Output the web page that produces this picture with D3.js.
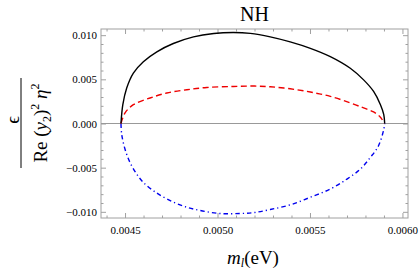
<!DOCTYPE html>
<html>
<head>
<meta charset="utf-8">
<script src="https://cdn.jsdelivr.net/npm/d3@7"></script>
<style>
  body { margin: 0; background: #fff; }
  svg text { font-family: "Liberation Serif", "Times New Roman", serif; }
</style>
</head>
<body>
<figure id="chart" style="margin:0"></figure>
<script>
// values
const blackM = [0.004478, 0.004488, 0.004509, 0.004545, 0.004599, 0.004672, 0.004761, 0.004870, 0.004980, 0.005086, 0.005177, 0.005285, 0.005393, 0.005502, 0.005610, 0.005718, 0.005790, 0.005844, 0.005881, 0.005899, 0.005904];
const blackEps = [0, 0.00213, 0.00402, 0.00571, 0.00700, 0.00812, 0.00906, 0.00981, 0.01019, 0.01030, 0.01020, 0.00981, 0.00924, 0.00851, 0.00757, 0.00625, 0.00494, 0.00363, 0.00213, 0.00101, 0];

const redM = [0.004478, 0.004500, 0.004545, 0.004635, 0.004726, 0.004834, 0.004942, 0.005086, 0.005200, 0.005285, 0.005393, 0.005502, 0.005610, 0.005718, 0.005790, 0.005844, 0.005881, 0.005902];
const redEps = [0, 0.00120, 0.00213, 0.00289, 0.00345, 0.00382, 0.00408, 0.00419, 0.00424, 0.00416, 0.00393, 0.00356, 0.00307, 0.00233, 0.00176, 0.00131, 0.00071, 0];

const blueM = [0.004478, 0.004482, 0.004500, 0.004527, 0.004563, 0.004599, 0.004653, 0.004726, 0.004816, 0.004906, 0.005014, 0.005123, 0.005200, 0.005285, 0.005393, 0.005502, 0.005610, 0.005700, 0.005772, 0.005826, 0.005870, 0.005899, 0.005904];
const blueEps = [0, -0.00124, -0.00292, -0.00442, -0.00573, -0.00667, -0.00761, -0.00854, -0.00936, -0.00985, -0.01019, -0.01019, -0.01008, -0.00974, -0.00921, -0.00835, -0.00742, -0.00629, -0.00517, -0.00385, -0.00255, -0.00067, 0];

const xTicks = [0.0045, 0.0050, 0.0055, 0.0060];
const yTicks = [-0.010, -0.005, 0.000, 0.005, 0.010];

const W = 419, H = 273;
const margin = {left: 101, right: 408, top: 29, bottom: 218};
const serif = "Liberation Serif, Times New Roman, serif";

const svg = d3.select("figure#chart").append("svg")
  .attr("width", W).attr("height", H);

const x = d3.scaleLinear().domain([0.00437, 0.00603]).range([margin.left, margin.right]);
const y = d3.scaleLinear().domain([-0.0107, 0.0107]).range([margin.bottom, margin.top]);

const frameColor = "#a0a0a0";

// minor ticks
const xMinor = d3.range(0.0044, 0.00604, 0.0001).filter(v => !xTicks.some(t => Math.abs(t - v) < 1e-9));
const yMinor = d3.range(-0.010, 0.0105, 0.001).filter(v => !yTicks.some(t => Math.abs(t - v) < 1e-9));

function styleAxis(g) {
  g.attr("font-family", serif);
  g.select(".domain").remove();
  g.selectAll(".tick line").attr("stroke", frameColor);
  g.selectAll(".tick text").attr("font-size", 11).attr("fill", "#000")
    .attr("font-family", serif);
}

// bottom
svg.append("g").attr("transform", "translate(0," + margin.bottom + ")")
  .call(d3.axisBottom(x).tickValues(xTicks).tickSize(-5).tickPadding(8).tickFormat(d3.format(".4f")))
  .call(styleAxis);
svg.append("g").attr("transform", "translate(0," + margin.bottom + ")")
  .call(d3.axisBottom(x).tickValues(xMinor).tickSize(-2.5).tickFormat(""))
  .call(styleAxis);
// top
svg.append("g").attr("transform", "translate(0," + margin.top + ")")
  .call(d3.axisTop(x).tickValues(xTicks).tickSize(-5).tickFormat(""))
  .call(styleAxis);
svg.append("g").attr("transform", "translate(0," + margin.top + ")")
  .call(d3.axisTop(x).tickValues(xMinor).tickSize(-2.5).tickFormat(""))
  .call(styleAxis);
// left
svg.append("g").attr("transform", "translate(" + margin.left + ",0)")
  .call(d3.axisLeft(y).tickValues(yTicks).tickSize(-5).tickPadding(4)
    .tickFormat(d => d3.format(".3f")(d).replace("-", "\u2212")))
  .call(styleAxis);
svg.append("g").attr("transform", "translate(" + margin.left + ",0)")
  .call(d3.axisLeft(y).tickValues(yMinor).tickSize(-2.5).tickFormat(""))
  .call(styleAxis);
// right
svg.append("g").attr("transform", "translate(" + margin.right + ",0)")
  .call(d3.axisRight(y).tickValues(yTicks).tickSize(-5).tickFormat(""))
  .call(styleAxis);
svg.append("g").attr("transform", "translate(" + margin.right + ",0)")
  .call(d3.axisRight(y).tickValues(yMinor).tickSize(-2.5).tickFormat(""))
  .call(styleAxis);

// frame
svg.append("rect")
  .attr("x", margin.left).attr("y", margin.top)
  .attr("width", margin.right - margin.left).attr("height", margin.bottom - margin.top)
  .attr("fill", "none").attr("stroke", frameColor).attr("stroke-width", 1);

// zero line
svg.append("line")
  .attr("x1", margin.left).attr("x2", margin.right)
  .attr("y1", y(0)).attr("y2", y(0))
  .attr("stroke", "#999").attr("stroke-width", 1);

const line = d3.line().curve(d3.curveCatmullRom.alpha(0.5));

function drawCurve(ms, es, color, dash) {
  svg.append("path")
    .attr("d", line(ms.map((m, i) => [x(m), y(es[i])])))
    .attr("fill", "none")
    .attr("stroke", color)
    .attr("stroke-width", 1.4)
    .attr("stroke-dasharray", dash);
}

drawCurve(blueM, blueEps, "#0000ee", "4.5,3,1.2,3");
drawCurve(redM, redEps, "#ee0000", "6,3.5");
drawCurve(blackM, blackEps, "#000", null);

// title
svg.append("text")
  .attr("x", 254.5).attr("y", 21)
  .attr("text-anchor", "middle").attr("font-size", 20)
  .attr("font-family", serif)
  .text("NH");

// x label
const xl = svg.append("text")
  .attr("x", 253).attr("y", 264)
  .attr("text-anchor", "middle").attr("font-size", 19)
  .attr("font-family", serif);
xl.append("tspan").attr("font-style", "italic").text("m");
xl.append("tspan").attr("font-style", "italic").attr("font-size", 12).attr("dy", 3).text("l");
xl.append("tspan").attr("dy", -3).text("(eV)");

// y label (fraction, rotated)
const yl = svg.append("g").attr("transform", "translate(21,123) rotate(-90)")
  .attr("font-family", serif);
yl.append("line").attr("x1", -45).attr("x2", 45).attr("y1", 0).attr("y2", 0)
  .attr("stroke", "#000").attr("stroke-width", 1);
yl.append("text").attr("x", 3).attr("y", -2.5).attr("text-anchor", "middle")
  .attr("font-size", 19).attr("font-family", serif).text("\u03f5");
const den = yl.append("text").attr("x", 0).attr("y", 26).attr("text-anchor", "middle")
  .attr("font-size", 19).attr("font-family", serif);
den.append("tspan").text("Re (");
den.append("tspan").attr("font-style", "italic").text("y");
den.append("tspan").attr("font-size", 12).attr("dy", 4).text("2");
den.append("tspan").attr("dy", -4).text(")");
den.append("tspan").attr("font-size", 12).attr("dy", -8).text("2");
den.append("tspan").attr("dy", 8).attr("font-style", "italic").text(" \u03b7");
den.append("tspan").attr("font-size", 12).attr("dy", -8).text("2");
</script>
</body>
</html>
